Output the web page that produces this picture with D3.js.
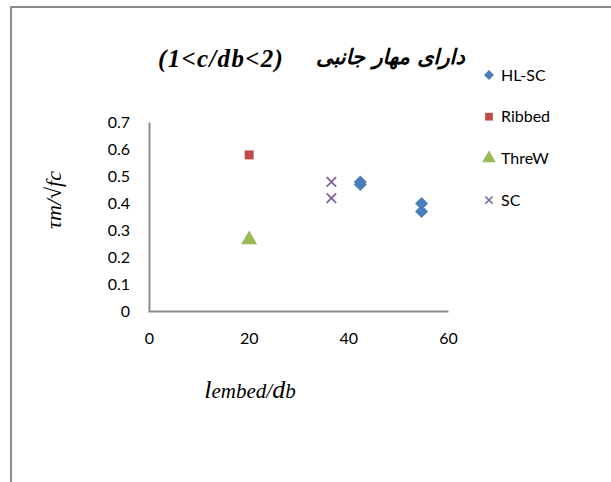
<!DOCTYPE html>
<html><head><meta charset="utf-8">
<script src="https://cdn.jsdelivr.net/npm/d3@7"></script>
<style>
html,body{margin:0;padding:0;background:#fff;}
svg{display:block;}
</style>
</head><body>
<svg id="chart" width="611" height="482"></svg>
<script>
const seriesNames = ["HL-SC", "Ribbed", "ThreW", "SC"];
const hlscX = [42.3, 42.3, 54.6, 54.6];
const hlscY = [0.48, 0.47, 0.40, 0.37];
const ribbedX = [20];
const ribbedY = [0.58];
const threwX = [20];
const threwY = [0.27];
const scX = [36.5, 36.5];
const scY = [0.48, 0.42];
const xTicks = [0, 20, 40, 60];
const yTicks = [0, 0.1, 0.2, 0.3, 0.4, 0.5, 0.6, 0.7];
const titleLatin = "(1<c/db<2)";
const titlePersian = "دارای مهار جانبی";

const colors = ["#4a7ebb", "#be4b48", "#98b954", "#7d60a0"];

const svg = d3.select("#chart");

// outer frame
svg.append("path").attr("d", "M11,482 L11,7 L611,7")
  .attr("fill", "none").attr("stroke", "#8c8c8c").attr("stroke-width", 2);

const x = d3.scaleLinear().domain([0, 60]).range([149.5, 448.5]);
const y = d3.scaleLinear().domain([0, 0.7]).range([311.5, 122.5]);

// axes lines
svg.append("line").attr("x1", x(0)).attr("x2", x(0)).attr("y1", y(0.7)).attr("y2", y(0))
  .attr("stroke", "#8c8c8c").attr("stroke-width", 2);
svg.append("line").attr("x1", x(0) - 1).attr("x2", x(60)).attr("y1", y(0)).attr("y2", y(0))
  .attr("stroke", "#8c8c8c").attr("stroke-width", 2);

const tickFont = "Lato, 'Open Sans', sans-serif";
// y tick labels
svg.append("g").selectAll("text").data(yTicks).join("text")
  .attr("x", 130).attr("y", d => y(d)).attr("dy", "0.35em")
  .attr("text-anchor", "end").attr("font-family", tickFont).attr("font-size", 16).attr("fill", "#000")
  .text(d => d === 0 ? "0" : d3.format(".1f")(d));
// x tick labels
svg.append("g").selectAll("text").data(xTicks).join("text")
  .attr("x", d => x(d)).attr("y", 344)
  .attr("text-anchor", "middle").attr("font-family", tickFont).attr("font-size", 16).attr("fill", "#000")
  .text(d => d);

// title (two runs, laid out as in the reference)
svg.append("text").attr("x", 158).attr("y", 67).attr("text-anchor", "start")
  .attr("font-family", "'Liberation Serif', 'DejaVu Serif', serif").attr("font-weight", "bold")
  .attr("font-style", "italic").attr("font-size", 25).attr("letter-spacing", 1.3)
  .text(titleLatin);
svg.append("text").attr("x", 316).attr("y", 64).attr("text-anchor", "start")
  .attr("font-family", "'DejaVu Sans', sans-serif").attr("font-weight", "bold")
  .attr("font-style", "italic").attr("font-size", 21)
  .text(titlePersian);

// y axis title
svg.append("text").attr("transform", "translate(61,200) rotate(-90)")
  .attr("text-anchor", "middle").attr("font-family", "'Liberation Serif', serif")
  .attr("font-style", "italic").attr("font-size", 22)
  .text("τm/√fc");

// x axis title
const xt = svg.append("text").attr("x", 250).attr("y", 398).attr("text-anchor", "middle")
  .attr("font-family", "'Liberation Serif', serif").attr("font-style", "italic");
xt.append("tspan").attr("font-size", 26).text("l");
xt.append("tspan").attr("font-size", 21).text("embed/");
xt.append("tspan").attr("font-size", 26).text("d");
xt.append("tspan").attr("font-size", 21).text("b");

// symbols
const diamondPath = r => `M0,${-r}L${r},0L0,${r}L${-r},0Z`;
const square = d3.symbol().type(d3.symbolSquare).size(80);
const triangle = d3.symbol().type(d3.symbolTriangle).size(110);
const cross = d3.symbol().type(d3.symbolX).size(60);

const pts = (xs, ys) => xs.map((v, i) => [v, ys[i]]);

svg.append("g").selectAll("path").data(pts(hlscX, hlscY)).join("path")
  .attr("transform", d => `translate(${x(d[0])},${y(d[1])})`).attr("d", diamondPath(6.5)).attr("fill", colors[0]);
svg.append("g").selectAll("path").data(pts(ribbedX, ribbedY)).join("path")
  .attr("transform", d => `translate(${x(d[0])},${y(d[1])})`).attr("d", square).attr("fill", colors[1]);
svg.append("g").selectAll("path").data(pts(threwX, threwY)).join("path")
  .attr("transform", d => `translate(${x(d[0])},${y(d[1]) + 1})`).attr("d", triangle).attr("fill", colors[2]);
svg.append("g").selectAll("path").data(pts(scX, scY)).join("path")
  .attr("transform", d => `translate(${x(d[0])},${y(d[1])})`).attr("d", cross)
  .attr("fill", "none").attr("stroke", colors[3]).attr("stroke-width", 1.8);

// legend
const legendSyms = [
  () => diamondPath(5),
  d3.symbol().type(d3.symbolSquare).size(60),
  d3.symbol().type(d3.symbolTriangle).size(80),
  d3.symbol().type(d3.symbolX).size(36)
];
const lg = svg.append("g").selectAll("g").data(seriesNames).join("g")
  .attr("transform", (d, i) => `translate(489,${75 + i * 41.7})`);
lg.append("path").attr("d", (d, i) => legendSyms[i]())
  .attr("fill", (d, i) => i === 3 ? "none" : colors[i])
  .attr("stroke", (d, i) => i === 3 ? colors[3] : "none").attr("stroke-width", 1.6);
lg.append("text").attr("x", 12).attr("dy", "0.35em").attr("font-family", tickFont)
  .attr("font-size", 16).text(d => d);
</script>
</body></html>
